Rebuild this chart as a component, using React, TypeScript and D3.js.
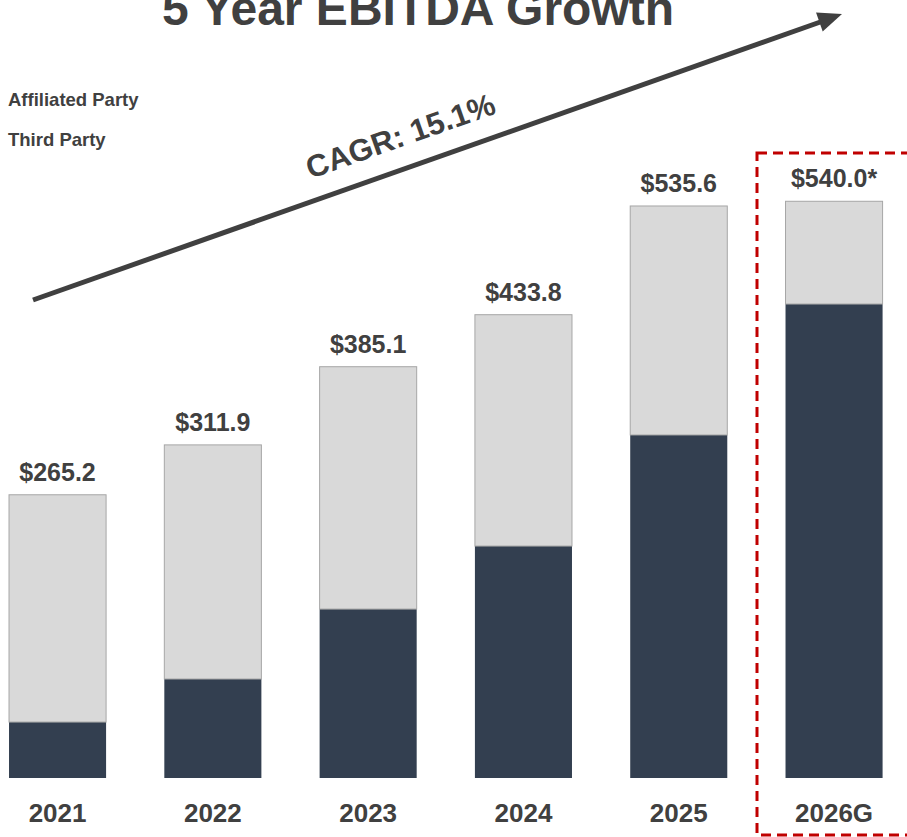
import React, { useRef, useEffect } from "react";
import * as d3 from "d3";

const years = ["2021", "2022", "2023", "2024", "2025", "2026G"];
const thirdParty = [52.4, 92.7, 158.2, 217.2, 321.2, 443.8];
const affiliated = [212.8, 219.2, 226.9, 216.6, 214.4, 96.2];
const totalLabels = ["$265.2", "$311.9", "$385.1", "$433.8", "$535.6", "$540.0*"];
const legendNames = ["Affiliated Party", "Third Party"];

const W = 907;
const H = 837;
const FONT = "'Liberation Sans', Arial, sans-serif";
const TEXT = "#404040";

const App = () => {
  const svgRef = useRef<SVGSVGElement>(null);

  useEffect(() => {
    const svg = d3.select(svgRef.current);
    svg.selectAll("*").remove();

    const rows = years.map((y, i) => ({ year: y, third: thirdParty[i], affil: affiliated[i] }));
    const series = d3.stack<any>().keys(["third", "affil"])(rows);

    const x = d3.scaleBand()
      .domain(years)
      .range([-20.1, 911.7])
      .paddingInner(0.375)
      .paddingOuter(0.1875);

    const y = d3.scaleLinear().domain([0, 600]).range([778, 137.2]);

    const colors = { third: "#333f50", affil: "#d9d9d9" };

    // title (cut at the top like the original slide)
    svg.append("text")
      .attr("x", 418)
      .attr("y", 25)
      .attr("text-anchor", "middle")
      .attr("font-family", FONT)
      .attr("font-weight", "bold")
      .attr("font-size", 48)
      .attr("fill", TEXT)
      .text("5 Year EBITDA Growth");

    // legend (text only)
    legendNames.forEach((name, i) => {
      svg.append("text")
        .attr("x", 8)
        .attr("y", 106 + i * 40)
        .attr("font-family", FONT)
        .attr("font-weight", "bold")
        .attr("font-size", 18.5)
        .attr("fill", TEXT)
        .text(name);
    });

    // bars
    svg.append("g")
      .selectAll("g")
      .data(series)
      .join("g")
      .attr("fill", d => colors[d.key as "third" | "affil"])
      .attr("stroke", d => (d.key === "affil" ? "#a6a6a6" : "none"))
      .selectAll("rect")
      .data(d => d)
      .join("rect")
      .attr("x", d => x(d.data.year)!)
      .attr("width", x.bandwidth())
      .attr("y", d => y(d[1]))
      .attr("height", d => y(d[0]) - y(d[1]));

    // total labels
    svg.append("g")
      .selectAll("text")
      .data(rows)
      .join("text")
      .attr("x", d => x(d.year)! + x.bandwidth() / 2)
      .attr("y", d => y(d.third + d.affil) - 14)
      .attr("text-anchor", "middle")
      .attr("font-family", FONT)
      .attr("font-weight", "bold")
      .attr("font-size", 25)
      .attr("fill", TEXT)
      .text((d, i) => totalLabels[i]);

    // category labels
    svg.append("g")
      .selectAll("text")
      .data(years)
      .join("text")
      .attr("x", d => x(d)! + x.bandwidth() / 2)
      .attr("y", 822)
      .attr("text-anchor", "middle")
      .attr("font-family", FONT)
      .attr("font-weight", "bold")
      .attr("font-size", 26)
      .attr("fill", TEXT)
      .text(d => d);

    // CAGR arrow
    const x1 = 33, y1 = 300, x2 = 826, y2 = 20;
    const ang = Math.atan2(y2 - y1, x2 - x1);
    svg.append("line")
      .attr("x1", x1).attr("y1", y1)
      .attr("x2", x2).attr("y2", y2)
      .attr("stroke", TEXT)
      .attr("stroke-width", 5);
    const tipX = 842, tipY = 14;
    const hl = 24, hw = 10;
    const bx = tipX - hl * Math.cos(ang), by = tipY - hl * Math.sin(ang);
    const px = -Math.sin(ang) * hw, py = Math.cos(ang) * hw;
    svg.append("path")
      .attr("d", `M${tipX},${tipY}L${bx + px},${by + py}L${bx - px},${by - py}Z`)
      .attr("fill", TEXT);

    svg.append("text")
      .attr("transform", `translate(404,146) rotate(${(ang * 180) / Math.PI})`)
      .attr("text-anchor", "middle")
      .attr("font-family", FONT)
      .attr("font-weight", "bold")
      .attr("font-size", 31)
      .attr("fill", TEXT)
      .text("CAGR: 15.1%");

    // dashed box around guidance year
    svg.append("rect")
      .attr("x", 757)
      .attr("y", 153)
      .attr("width", 170)
      .attr("height", 682)
      .attr("fill", "none")
      .attr("stroke", "#c00000")
      .attr("stroke-width", 3)
      .attr("stroke-dasharray", "10,6");
  }, []);

  return (
    <svg
      ref={svgRef}
      width={W}
      height={H}
      style={{ position: "absolute", left: 0, top: 0, background: "#fff" }}
    />
  );
};

export default App;
